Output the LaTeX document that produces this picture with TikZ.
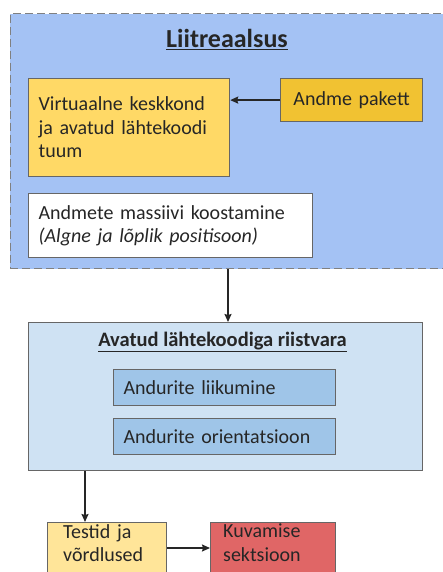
\documentclass[tikz,border=0pt]{standalone}
\usepackage{fontspec}
\setmainfont{Carlito}
\usetikzlibrary{arrows.meta,calc}

\definecolor{mixfill}{HTML}{A4C2F4}
\definecolor{coreyellow}{HTML}{FFD966}
\definecolor{packgold}{HTML}{F1C232}
\definecolor{hwfill}{HTML}{CFE2F3}
\definecolor{sensorfill}{HTML}{9FC5E8}
\definecolor{testfill}{HTML}{FFE599}
\definecolor{showred}{HTML}{E06666}
\definecolor{edgegray}{HTML}{666666}

\tikzset{
  box/.style={draw=edgegray, line width=1.2pt, rectangle, anchor=north west,
    inner sep=0pt, align=left, font=\fontsize{20}{23.5}\selectfont, text=black!85},
  flow/.style={line width=1.5pt, draw=black!85,
    -{Stealth[length=8pt,width=7pt,inset=1pt]}},
  heading/.style={font=\fontsize{20.5}{24}\selectfont\bfseries, text=black!85, anchor=base}
}

\begin{document}
\begin{tikzpicture}[x=1pt,y=-1pt]
\useasboundingbox (0,0) rectangle (443,572);
\clip (0,0) rectangle (443,572);

% mixed reality container
\node[box, draw=gray, dashed, dash pattern=on 8pt off 4pt, fill=mixfill,
      minimum width=460pt, minimum height=255pt] (mix) at (9.5,13) {};
\node[heading, font=\fontsize{26}{30}\selectfont\bfseries] (mixtitle) at (227,48) {\underline{Liitreaalsus}};

\node[box, fill=coreyellow, minimum width=201pt, minimum height=98pt,
      text width=181pt, inner xsep=10pt] (core) at (28,78)
  {Virtuaalne keskkond\\ja avatud lähtekoodi\\tuum};
\node[box, fill=packgold, minimum width=142pt, minimum height=43pt,
      align=center, text width=142pt] (pack) at (280,78) {Andme pakett};
\node[box, fill=white, minimum width=284pt, minimum height=64pt,
      text width=264pt, inner xsep=10pt] (array) at (28,193)
  {Andmete massiivi koostamine\\\textit{(Algne ja lõplik positisoon)}};

% open-source hardware container
\node[box, fill=hwfill, minimum width=394pt, minimum height=148pt] (hw) at (28,322) {};
\node[heading] (hwtitle) at (222.5,346) {\underline{Avatud lähtekoodiga riistvara}};
\node[box, fill=sensorfill, minimum width=222pt, minimum height=36pt,
      text width=202pt, inner xsep=10pt] (move) at (113,369) {Andurite liikumine};
\node[box, fill=sensorfill, minimum width=222pt, minimum height=36pt,
      text width=202pt, inner xsep=10pt] (orient) at (113,418) {Andurite orientatsioon};

% bottom row
\node[box, fill=testfill, minimum width=119pt, minimum height=80pt,
      text width=103pt, inner xsep=0pt, inner ysep=0pt] (tests) at (47,522) {};
\node[anchor=north west, inner sep=0pt, align=left, text width=100pt,
      font=\fontsize{20}{23.5}\selectfont, text=black!85] (teststext) at (63,524)
  {Testid ja\\võrdlused};
\node[box, fill=showred, minimum width=125pt, minimum height=80pt] (show) at (210,522) {};
\node[anchor=north west, inner sep=0pt, align=left, text width=110pt,
      font=\fontsize{20}{23.5}\selectfont, text=black!85] (showtext) at (223,524)
  {Kuvamise\\sektsioon};

% connectors
\coordinate (downA) at (228,0);
\coordinate (downB) at (85,0);
\coordinate (sideC) at (0,548);
\draw[flow] (pack.west) -- (pack.west -| core.east);
\draw[flow] (mix.south -| downA) -- (hw.north -| downA);
\draw[flow] (hw.south -| downB) -- (tests.north -| downB);
\draw[flow] (tests.east |- sideC) -- (show.west |- sideC);
\end{tikzpicture}
\end{document}
